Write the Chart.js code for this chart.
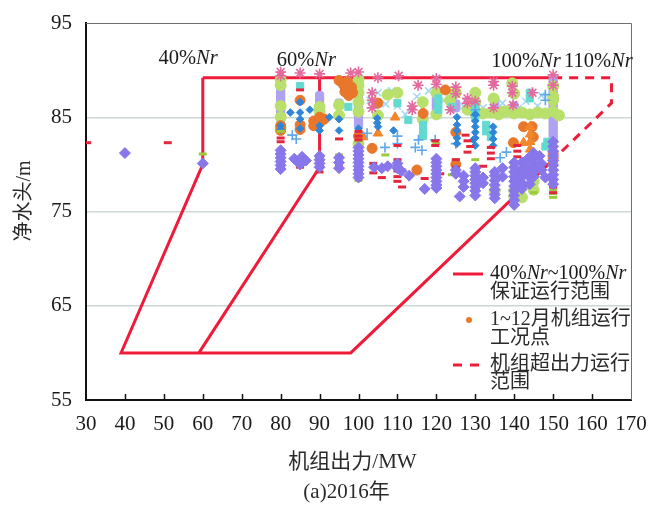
<!DOCTYPE html>
<html>
<head>
<meta charset="utf-8">
<script src="https://cdn.jsdelivr.net/npm/chart.js@4.4.1/dist/chart.umd.min.js"></script>
<style>
  html, body { margin: 0; padding: 0; background: #ffffff; }
  #wrap { width: 650px; height: 509px; }
</style>
</head>
<body>
<div id="wrap"><canvas id="chart" width="650" height="509"></canvas></div>
<script>
// ---- axis ticks ----
const xTickValues = [30, 40, 50, 60, 70, 80, 90, 100, 110, 120, 130, 140, 150, 160, 170];
const yTickValues = [55, 65, 75, 85, 95];

// ---- operating range outlines (MW, m) ----
const guaranteedRange = [[60, 89.2], [150, 89.2], [150, 80.5], [98, 60], [39, 60], [60, 80], [60, 89.2]];
const range60Line = [[59, 60], [90, 79.7], [90, 89.2]];
const overloadRange = [[150, 89.2], [165, 89.2], [165, 86.5], [150, 80.5]];

// ---- range labels ----
const nrLabelPct = ['40%', '60%', '100%', '110%'];
const nrLabelX = [56.2, 86.6, 143.0, 161.6];
const nrLabelY = [90.6, 90.4, 90.3, 90.3];

// ---- monthly operating points (MW, m) ----
const m01 = [[80,84.1],[80,83.7],[82.5,85.5],[85,86.6],[85,85.5],[85,84.8],[85,83.8],[87.5,85.8],[90,84.1],[90,83.6],
  [92.5,85.0],[95,84.8],[95,83.6],[100,83.8],[104.8,84.9],[104.8,84.4],[105,84.0],[109,83.6],[125.3,85.0],[125.3,84.2],
  [125.3,83.6],[125.3,82.8],[125.3,82.2],[129.5,82.6],[130,85.3],[130,84.6],[130,84.0],[130,83.4],[130,82.8],[130,82.0],
  [134.6,84.0],[134.6,83.4],[134.6,82.7],[134.6,82.0]];
const m02 = [[95,88.9],[96.2,88.4],[97.2,88.8],[98.2,88.2],[96.5,87.7],[98.5,87.6],[97.5,87.3],[80,84.1],[80,83.6],
  [85,86.8],[85,84.2],[85,83.7],[88.5,84.6],[88.5,84.1],[90,85.0],[90,84.4],[91.2,84.8],[100,83.0],[103.5,81.7],[105,86.5],
  [115,79.4],[116.6,85.4],[122.3,87.9],[125,83.4],[125,80.0],[139.8,82.3],[142.4,84.0],[144.6,84.0],[144.9,82.9],
  [145,80.8],[150,81.2],[150,80.6]];
const m03 = [[83,83.1],[84,82.7],[102.2,83.3],[106.8,81.8],[110,83.0],[110,82.2],[114.6,81.8],[115.4,82.6],[116.3,81.5],
  [119.7,82.6],[130,85.8],[130,85.2],[136.4,80.7],[138,81.3],[148,87.4],[148,86.8],[125,82.2]];
const m04 = [[30.3,82.3],[51,82.3],[80,82.8],[80,82.4],[85,87.9],[85,79.7],[90,79.2],[95,82.7],[95,80.0],[100,83.5],
  [100,83.0],[100,82.6],[100,79.3],[103.8,80.1],[103.8,79.1],[106,78.6],[110,82.0],[110,80.5],[110,79.9],[110,79.3],
  [110,78.7],[110,78.2],[111.2,79.4],[111.2,77.6],[117,78.5],[119.7,82.5],[119.7,82.0],[121,79.0],[125,80.5],[125,79.7],
  [125,79.0],[127.5,83.1],[128,82.5],[128.7,81.9],[128,81.3],[134,81.8],[134,81.2],[134,80.6],[132,79.8],[140.8,82.0],
  [140.8,81.4],[140.8,80.8],[140.8,80.2],[140.8,79.6],[140.8,79.0],[140.8,78.3],[150,79.4],[150,78.8],[150,78.2],
  [150,77.6],[150,77.0]];
const m05 = [[60,81.1],[80,83.5],[95,81.0],[100,82.5],[106.9,81.0],[120,82.2],[125,80.5],[124,78.9],[150,76.5],[150,76.9],
  [150,77.3],[140,75.9],[145,77.0],[130,80.5],[100,78.3]];
const m06 = [[105,83.3],[109.4,85.0],[101.2,82.9],[144.1,84.0],[144.1,83.2],[144.1,82.4],[144.1,81.6],[145,81.2],
  [150,81.0],[150,80.4],[142.4,82.3]];
const m07 = [[40,81.2],[60,80.1],[80,81.5],[80,81.1],[80,80.7],[80,80.3],[80,79.9],[80,79.5],[83.5,80.6],[84.5,80.3],
  [85.5,80.8],[86.5,80.4],[85,80.0],[90,80.9],[90,80.5],[90,80.1],[90,79.7],[95,80.7],[95,80.2],[95,79.6],[100,81.8],
  [100,81.4],[100,81.0],[100,80.6],[100,80.2],[100,79.8],[100,79.4],[100,79.0],[100,78.6],[104,79.7],[106,79.6],
  [107.5,79.8],[110,80.1],[110,79.6],[111,79.3],[113,78.8],[120,80.6],[120,80.2],[120,79.8],[120,79.4],[120,79.0],
  [120,78.6],[120,78.2],[120,77.8],[120,77.5],[117,77.4],[125,79.4],[125,79.0],[127,78.8],[127,78.2],[127,77.6],
  [126,76.6],[130,79.6],[130,79.2],[130,78.8],[130,78.4],[130,78.0],[130,77.6],[130,77.2],[130,76.7],[132,78.6],
  [132,78.0],[135,79.2],[135,78.8],[135,78.3],[135,77.8],[135,77.3],[135,76.8],[135,76.4],[137,79.6],[137,78.7],
  [140,80.2],[140,79.7],[140,79.2],[140,78.7],[140,78.2],[140,77.7],[140,77.2],[140,76.7],[140,76.2],[140,75.7],
  [141.5,78.5],[142,80.2],[142,79.3],[142,78.0],[142,77.4],[143.5,80.6],[143.5,79.6],[143.5,78.8],[144,77.9],
  [145,81.2],[145,80.7],[145,80.2],[145,79.7],[145,79.2],[145,78.7],[146.5,80.9],[147,80.1],[147,79.4],[148,78.6],
  [150,82.4],[150,81.9],[150,81.4],[150,80.9],[150,80.4],[150,79.9],[150,79.4],[150,78.9],[150,78.4],[150,77.9]];
const m08 = [[80,89.0],[80,88.4],[80,86.2],[80,85.0],[80,83.9],[90,86.1],[90,85.6],[95,86.3],[95,85.2],[100,89.0],
  [100,88.4],[100,87.6],[100,86.6],[100,85.6],[100,82.2],[107.5,87.4],[110,87.6],[105,85.2],[116.5,86.6],[116.5,84.8],
  [120,87.6],[120,85.3],[123.5,86.8],[125,87.6],[130,87.6],[130,86.6],[134.7,87.0],[137,85.6],[139.5,88.6],[140,87.5],
  [128,85.8],[130,85.4],[132,85.4],[134,85.5],[136,85.3],[138,85.6],[140,85.4],[142,85.5],[144,85.3],[146,85.5],
  [148,85.4],[150,85.6],[151.5,85.2],[150,88.3],[150,87.2],[150,86.8],[140,76.6],[140,77.2],[145,78.2],[145,77.3],
  [142,76.5],[135,77.2]];
const m09 = [[85,88.3],[97.4,86.1],[110,86.5],[112.8,84.7],[116.6,84.2],[116.6,83.6],[116.6,83.0],[120.5,87.0],
  [120.5,86.4],[120.5,85.8],[124,86.1],[130,86.2],[130,85.6],[130,85.0],[132.8,84.2],[132.8,83.5],[134,82.9],
  [144,87.6],[144,87.0],[148.5,82.4],[148,81.9]];
const m10 = [[80,89.8],[80,89.4],[85,89.7],[90,89.6],[98,89.7],[100,89.8],[103.5,87.6],[103.5,86.8],[103.5,86.0],
  [105,89.2],[110.3,89.4],[113.8,86.2],[113.8,85.8],[115.3,88.4],[120,89.1],[120,88.5],[123.6,85.8],[125,88.2],
  [125,87.5],[128,87.0],[128,86.5],[130,86.7],[134.7,88.8],[134.7,88.4],[134.7,86.0],[139.5,88.3],[139.5,87.6],
  [139.7,86.3],[144.7,87.6],[150,88.4],[150,89.5]];
const m11 = [[103,86.8],[105,87.6],[107,86.4],[108.5,87.8],[110,86.2],[112,85.3],[115,87.2],[118,87.8],[122,86.8],
  [124,87.2],[127,86.2],[128.5,85.7],[132,86.0],[137,86.5],[141,85.9],[143,86.7],[146,86.2],[147,87.3]];
const m12 = [[80,88.8],[80,88.4],[80,88.0],[80,87.6],[80,87.2],[80,86.8],[80,86.4],[80,86.0],[80,85.6],[80,85.2],
  [80,84.8],[90,87.3],[90,86.9],[90,86.5],[95,86.5],[100,89.0],[100,88.6],[100,88.2],[100,87.8],[100,87.4],[100,87.0],
  [100,86.6],[100,86.2],[100,85.8],[100,85.4],[100,85.0],[100,84.6],[100,84.2],[120,87.2],[120,86.8],[120,86.4],
  [120,86.0],[120,85.6],[125,86.4],[125,86.0],[130,85.8],[135,86.8],[135,86.4],[140,86.2],[150,89.0],[150,88.6],
  [150,88.2],[150,87.8],[150,87.4],[150,87.0],[150,86.6],[150,86.2],[150,85.8],[150,85.4],[150,85.0],[150,84.6],
  [150,84.2],[150,83.8],[150,83.4],[150,83.0],[150,82.6]];

const RED = '#EE1C3A';
const SERIF = '"Liberation Serif", "Noto Sans CJK SC", serif';
const toXY = arr => arr.map(p => ({ x: p[0], y: p[1] }));

// marker style per month: [data, colour, pointStyle, radius, stroke width, draw order]
const monthStyles = [
  [m01, '#2F86D8', 'rectRot', 3.8, 1, 4],
  [m02, '#E8762B', 'circle', 5, 1, 6],
  [m03, '#5FA8EA', 'cross', 5, 1.6, 5],
  [m04, '#E2263E', 'line', 4, 3, 2],
  [m05, '#9BCB3C', 'line', 4, 3, 3],
  [m06, '#F2862A', 'triangle', 5.5, 1, 5],
  [m07, '#8877EA', 'rectRot', 5.5, 1, 0],
  [m08, '#B8E06A', 'circle', 5.5, 1, 8],
  [m09, '#62DAD0', 'rect', 5, 1, 7],
  [m10, '#E46A9E', 'star', 5.5, 1.6, 1],
  [m11, '#A5D8F5', 'crossRot', 5, 1.6, 9],
  [m12, '#AFA2F2', 'rectRounded', 4.8, 1, 10]
];

const datasets = monthStyles.map((s, i) => ({
  label: (i + 1) + '月',
  data: toXY(s[0]),
  backgroundColor: s[1],
  borderColor: s[1],
  pointStyle: s[2],
  pointRadius: s[3],
  pointBorderWidth: s[4],
  showLine: false,
  order: s[5]
}));

datasets.push({
  label: 'guaranteed',
  data: toXY(guaranteedRange), showLine: true, borderColor: RED, borderWidth: 3,
  pointRadius: 0, fill: false, tension: 0, order: 20
});
datasets.push({
  label: 'range60',
  data: toXY(range60Line), showLine: true, borderColor: RED, borderWidth: 3,
  pointRadius: 0, fill: false, tension: 0, order: 20
});
datasets.push({
  label: 'overload',
  data: toXY(overloadRange), showLine: true, borderColor: RED, borderWidth: 3,
  borderDash: [9, 7], pointRadius: 0, fill: false, tension: 0, order: 20
});

// draws text made of upright and italic runs, centred on cx (or starting at cx)
function drawRuns(ctx, runs, cx, y, size, align) {
  const fonts = runs.map(r => (r[1] ? 'italic ' : '') + size + 'px ' + SERIF);
  let total = 0;
  const widths = runs.map((r, i) => { ctx.font = fonts[i]; const w = ctx.measureText(r[0]).width; total += w; return w; });
  let x = align === 'left' ? cx : cx - total / 2;
  runs.forEach((r, i) => { ctx.font = fonts[i]; ctx.fillText(r[0], x, y); x += widths[i]; });
}

const decor = {
  id: 'decor',
  beforeDatasetsDraw(chart) {
    const { ctx, chartArea: a } = chart;
    ctx.save();
    // outer frame on the top and right
    ctx.strokeStyle = '#6f6f6f';
    ctx.lineWidth = 1;
    ctx.beginPath();
    ctx.moveTo(a.left, a.top + 0.5);
    ctx.lineTo(a.right + 0.5, a.top + 0.5);
    ctx.lineTo(a.right + 0.5, a.bottom);
    ctx.stroke();
    // inward tick marks on the x axis
    const xs = chart.scales.x;
    ctx.strokeStyle = '#111';
    ctx.lineWidth = 1.5;
    xTickValues.slice(1, -1).forEach(v => {
      const px = Math.round(xs.getPixelForValue(v)) + 0.5;
      ctx.beginPath();
      ctx.moveTo(px, a.bottom);
      ctx.lineTo(px, a.bottom - 6);
      ctx.stroke();
    });
    ctx.restore();
  },
  afterDraw(chart) {
    const { ctx, chartArea: a, scales } = chart;
    ctx.save();
    ctx.fillStyle = '#1a1a1a';
    ctx.textBaseline = 'alphabetic';
    // Nr range labels
    nrLabelPct.forEach((p, i) => {
      drawRuns(ctx, [[p, false], ['Nr', true]],
        scales.x.getPixelForValue(nrLabelX[i]), scales.y.getPixelForValue(nrLabelY[i]), 20.5);
    });
    // axis titles and caption
    const cx = (a.left + a.right) / 2;
    ctx.textAlign = 'center';
    ctx.textBaseline = 'middle';
    ctx.fillStyle = '#2a2a2a';
    ctx.font = '21px ' + SERIF;
    ctx.fillText('机组出力/MW', cx - 6, 462);
    ctx.fillText('(a)2016年', cx - 12, 492);
    ctx.save();
    ctx.translate(25, 201);
    ctx.rotate(-Math.PI / 2);
    ctx.font = '20px ' + SERIF;
    ctx.fillText('净水头/m', 0, 0);
    ctx.restore();

    // legend
    ctx.textAlign = 'left';
    ctx.strokeStyle = RED;
    ctx.lineWidth = 3;
    ctx.beginPath();
    ctx.moveTo(453, 274);
    ctx.lineTo(483, 274);
    ctx.stroke();
    ctx.fillStyle = '#1a1a1a';
    drawRuns(ctx, [['40%', false], ['Nr', true], ['~100%', false], ['Nr', true]], 490, 274, 20, 'left');
    ctx.font = '20px ' + SERIF;
    ctx.fillStyle = '#2a2a2a';
    ctx.fillText('保证运行范围', 490, 293);

    ctx.fillStyle = '#E8762B';
    ctx.beginPath();
    ctx.arc(469, 320, 3, 0, Math.PI * 2);
    ctx.fill();
    ctx.fillStyle = '#2a2a2a';
    ctx.fillText('1~12月机组运行', 490, 320);
    ctx.fillText('工况点', 490, 339);

    ctx.setLineDash([9, 8]);
    ctx.beginPath();
    ctx.moveTo(453, 365);
    ctx.lineTo(484, 365);
    ctx.stroke();
    ctx.setLineDash([]);
    ctx.fillText('机组超出力运行', 490, 365);
    ctx.fillText('范围', 490, 383);
    ctx.restore();
  }
};

new Chart(document.getElementById('chart'), {
  type: 'scatter',
  data: { datasets },
  options: {
    responsive: false,
    animation: false,
    devicePixelRatio: 1,
    layout: { padding: { top: 23, right: 19, left: 0, bottom: 0 } },
    plugins: { legend: { display: false }, tooltip: { enabled: false } },
    scales: {
      x: {
        type: 'linear', min: 30, max: 170,
        afterBuildTicks: s => { s.ticks = xTickValues.map(v => ({ value: v })); },
        afterFit: s => { s.height = 109; s.paddingLeft = 0; s.paddingRight = 0; },
        grid: { display: false, drawTicks: false },
        border: { display: true, color: '#111', width: 2 },
        ticks: { padding: 12, color: '#1a1a1a', font: { family: SERIF, size: 21 }, maxRotation: 0, autoSkip: false }
      },
      y: {
        type: 'linear', min: 55, max: 95,
        afterBuildTicks: s => { s.ticks = yTickValues.map(v => ({ value: v })); },
        afterFit: s => { s.width = 86; s.paddingTop = 0; s.paddingBottom = 0; },
        grid: {
          drawTicks: false,
          color: c => (c.tick && (c.tick.value === 55 || c.tick.value === 95)) ? 'rgba(0,0,0,0)' : '#CCD6D5',
          lineWidth: 1.5
        },
        border: { display: true, color: '#111', width: 2 },
        ticks: { padding: 14, color: '#1a1a1a', font: { family: SERIF, size: 21 } }
      }
    }
  },
  plugins: [decor]
});
</script>
</body>
</html>
